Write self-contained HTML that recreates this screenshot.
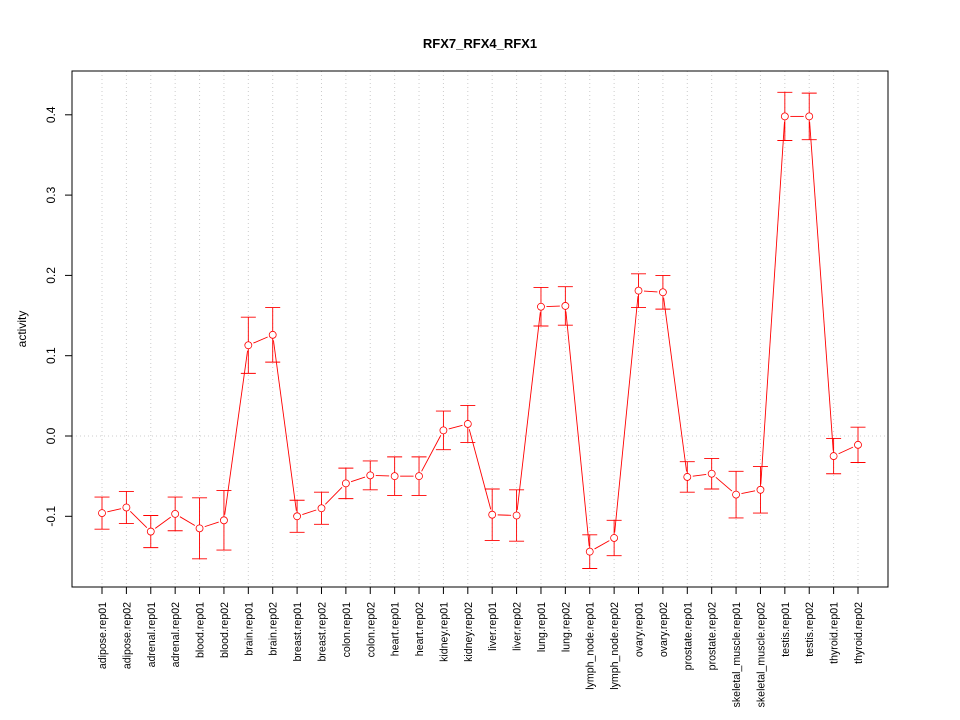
<!DOCTYPE html>
<html><head><meta charset="utf-8"><style>
html,body{margin:0;padding:0;background:#fff;}
svg{display:block;font-family:"Liberation Sans",sans-serif;}
</style></head><body>
<svg id="chart" width="960" height="720"></svg>
<script>
const categories=["adipose.rep01","adipose.rep02","adrenal.rep01","adrenal.rep02","blood.rep01","blood.rep02","brain.rep01","brain.rep02","breast.rep01","breast.rep02","colon.rep01","colon.rep02","heart.rep01","heart.rep02","kidney.rep01","kidney.rep02","liver.rep01","liver.rep02","lung.rep01","lung.rep02","lymph_node.rep01","lymph_node.rep02","ovary.rep01","ovary.rep02","prostate.rep01","prostate.rep02","skeletal_muscle.rep01","skeletal_muscle.rep02","testis.rep01","testis.rep02","thyroid.rep01","thyroid.rep02"];
const values=[-0.096,-0.089,-0.119,-0.097,-0.115,-0.105,0.113,0.126,-0.100,-0.090,-0.059,-0.049,-0.050,-0.050,0.007,0.015,-0.098,-0.099,0.161,0.162,-0.144,-0.127,0.181,0.179,-0.051,-0.047,-0.073,-0.067,0.398,0.398,-0.025,-0.011];
const errors=[0.020,0.020,0.020,0.021,0.038,0.037,0.035,0.034,0.020,0.020,0.019,0.018,0.024,0.024,0.024,0.023,0.032,0.032,0.024,0.024,0.021,0.022,0.021,0.021,0.019,0.019,0.029,0.029,0.030,0.029,0.022,0.022];
const yTicks=[-0.1,0.0,0.1,0.2,0.3,0.4];
const yTickLabels=["-0.1","0.0","0.1","0.2","0.3","0.4"];

const svg=document.getElementById('chart');
const NS='http://www.w3.org/2000/svg';
const L=72,R=888,T=71,B=587;
function xs(i){return 102+i*(858-102)/(categories.length-1);}
function ys(v){return 436-v*803;}
function mk(tag,attrs,parent){const e=document.createElementNS(NS,tag);for(const k in attrs)e.setAttribute(k,attrs[k]);(parent||svg).appendChild(e);return e;}

let t=mk('text',{x:480,y:48,'text-anchor':'middle','font-size':13,'font-weight':'bold'});
t.textContent='RFX7_RFX4_RFX1';



t=mk('text',{x:0,y:0,'text-anchor':'middle','font-size':12,transform:'translate(26,329) rotate(-90)'});
t.textContent='activity';



categories.forEach((c,i)=>{
  const g=mk('line',{x1:xs(i),x2:xs(i),y1:T,y2:B,stroke:'#ccc','stroke-dasharray':'1,3'});
  
  
});
const zg=mk('line',{x1:L,x2:R,y1:ys(0),y2:ys(0),stroke:'#ccc','stroke-dasharray':'1,3'});



const box=mk('rect',{x:L,y:T,width:R-L,height:B-T,fill:'none',stroke:'#000'});



yTicks.forEach((v,i)=>{
  const y=ys(v);
  const l=mk('line',{x1:L-7,x2:L,y1:y,y2:y,stroke:'#000'});
  
  
  const tx=mk('text',{x:0,y:0,'text-anchor':'middle','font-size':12,transform:`translate(55,${y}) rotate(-90)`});
  tx.textContent=yTickLabels[i];
  
  
});
categories.forEach((c,i)=>{
  const x=xs(i);
  const l=mk('line',{x1:x,x2:x,y1:B,y2:B+7,stroke:'#000'});
  
  
  const tx=mk('text',{x:0,y:0,'text-anchor':'end','font-size':10.6,transform:`translate(${x+4},602) rotate(-90)`});
  tx.textContent=c;
  
  
});
const r=3.5;
for(let i=0;i<values.length-1;i++){
  const x1=xs(i),y1=ys(values[i]),x2=xs(i+1),y2=ys(values[i+1]);
  const d=Math.hypot(x2-x1,y2-y1);
  if(d<3*r)continue;
  const ux=(x2-x1)/d,uy=(y2-y1)/d,g=r+2;
  const l=mk('line',{x1:x1+ux*g,y1:y1+uy*g,x2:x2-ux*g,y2:y2-uy*g,stroke:'#f00','stroke-width':0.9});
  
  
}
values.forEach((v,i)=>{
  const x=xs(i),yu=ys(v+errors[i]),yl=ys(v-errors[i]);
  const p=mk('path',{d:`M${x},${yu}V${yl}M${x-7.5},${yu}H${x+7.5}M${x-7.5},${yl}H${x+7.5}`,stroke:'#f00',fill:'none','stroke-width':0.9});
  
  
  const c=mk('circle',{cx:x,cy:ys(v),r:r,fill:'#fff',stroke:'#f00','stroke-width':0.8});
  
  
});
</script>
</body></html>
